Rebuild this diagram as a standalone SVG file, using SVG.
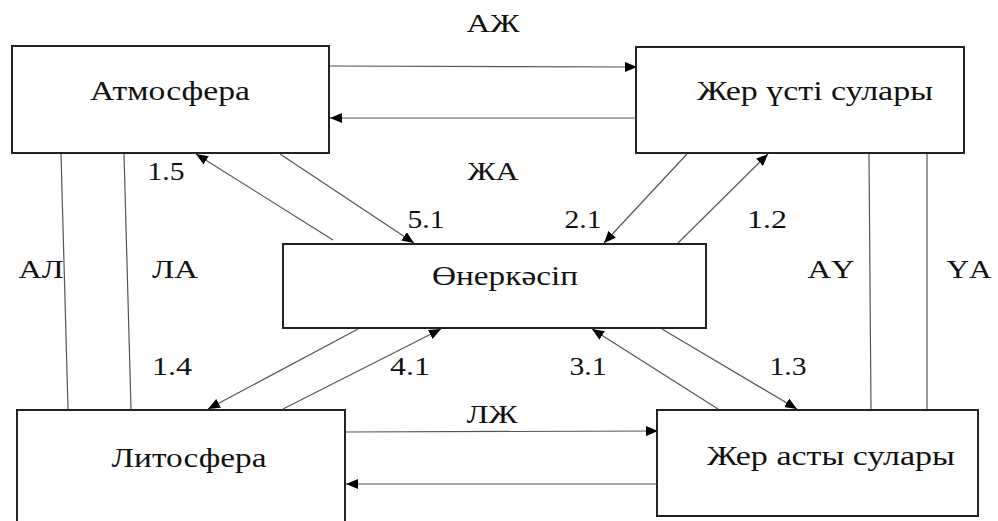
<svg xmlns="http://www.w3.org/2000/svg" width="998" height="521" viewBox="0 0 998 521">
<style>
.box{fill:#fff;stroke:#222;stroke-width:2}
.ln{stroke:#555;stroke-width:1.2;fill:none}
.lbl{font-size:26px}
.nm{font-size:27px}
</style>
<defs>
<marker id="ah" markerUnits="userSpaceOnUse" markerWidth="12" markerHeight="10" refX="12" refY="5" orient="auto">
<path d="M0,0 L12,5 L0,10 Z" fill="#000"/>
</marker>
</defs>
<rect width="998" height="521" fill="#fff"/>
<g font-family="Times New Roman, Liberation Serif, Tinos, serif" fill="#111" text-anchor="middle">
<g id="atmosfera">
<rect class="box" x="12" y="46" width="317" height="107"/>
<text class="nm" x="170" y="100" textLength="160" lengthAdjust="spacingAndGlyphs">Атмосфера</text>
</g>
<g id="jer-usti">
<rect class="box" x="636" y="47" width="328" height="106"/>
<text class="nm" x="815" y="100" textLength="236" lengthAdjust="spacingAndGlyphs">Жер үсті сулары</text>
</g>
<g id="onerkasip">
<rect class="box" x="283" y="244" width="423" height="84"/>
<text class="nm" x="505" y="285" textLength="146" lengthAdjust="spacingAndGlyphs">Өнеркәсіп</text>
</g>
<g id="litosfera">
<rect class="box" x="17" y="410" width="328" height="125"/>
<text class="nm" x="189" y="467" textLength="155" lengthAdjust="spacingAndGlyphs">Литосфера</text>
</g>
<g id="jer-asty">
<rect class="box" x="657" y="410" width="321" height="106"/>
<text class="nm" x="831" y="465" textLength="248" lengthAdjust="spacingAndGlyphs">Жер асты сулары</text>
</g>
<g id="connectors">
<line class="ln" x1="330" y1="66" x2="637" y2="67" marker-end="url(#ah)"/>
<line class="ln" x1="636" y1="118" x2="330" y2="118" marker-end="url(#ah)"/>
<line class="ln" x1="346" y1="432" x2="658" y2="431" marker-end="url(#ah)"/>
<line class="ln" x1="657" y1="484" x2="346" y2="484" marker-end="url(#ah)"/>
<line class="ln" x1="61" y1="154" x2="68" y2="409"/>
<line class="ln" x1="124" y1="154" x2="131" y2="409"/>
<line class="ln" x1="869" y1="154" x2="871" y2="409"/>
<line class="ln" x1="927" y1="154" x2="927" y2="409"/>
<line class="ln" x1="333" y1="240" x2="196" y2="154" marker-end="url(#ah)"/>
<line class="ln" x1="280" y1="154" x2="414" y2="243" marker-end="url(#ah)"/>
<line class="ln" x1="687" y1="154" x2="604" y2="243" marker-end="url(#ah)"/>
<line class="ln" x1="678" y1="243" x2="768" y2="154" marker-end="url(#ah)"/>
<line class="ln" x1="358" y1="329" x2="208" y2="409" marker-end="url(#ah)"/>
<line class="ln" x1="283" y1="409" x2="441" y2="329" marker-end="url(#ah)"/>
<line class="ln" x1="718" y1="409" x2="592" y2="329" marker-end="url(#ah)"/>
<line class="ln" x1="662" y1="329" x2="797" y2="409" marker-end="url(#ah)"/>
</g>
<g id="labels">
<text class="lbl" x="493" y="32" textLength="53" lengthAdjust="spacingAndGlyphs">АЖ</text>
<text class="lbl" x="493" y="180" textLength="51" lengthAdjust="spacingAndGlyphs">ЖА</text>
<text class="lbl" x="41" y="278" textLength="45" lengthAdjust="spacingAndGlyphs">АЛ</text>
<text class="lbl" x="175" y="278" textLength="46" lengthAdjust="spacingAndGlyphs">ЛА</text>
<text class="lbl" x="831" y="278" textLength="47" lengthAdjust="spacingAndGlyphs">АҮ</text>
<text class="lbl" x="969" y="278" textLength="45" lengthAdjust="spacingAndGlyphs">ҮА</text>
<text class="lbl" x="166" y="180" textLength="37" lengthAdjust="spacingAndGlyphs">1.5</text>
<text class="lbl" x="426" y="228" textLength="37" lengthAdjust="spacingAndGlyphs">5.1</text>
<text class="lbl" x="583" y="228" textLength="37" lengthAdjust="spacingAndGlyphs">2.1</text>
<text class="lbl" x="767" y="228" textLength="40" lengthAdjust="spacingAndGlyphs">1.2</text>
<text class="lbl" x="172" y="375" textLength="40" lengthAdjust="spacingAndGlyphs">1.4</text>
<text class="lbl" x="410" y="375" textLength="40" lengthAdjust="spacingAndGlyphs">4.1</text>
<text class="lbl" x="588" y="375" textLength="37" lengthAdjust="spacingAndGlyphs">3.1</text>
<text class="lbl" x="788" y="375" textLength="37" lengthAdjust="spacingAndGlyphs">1.3</text>
<text class="lbl" x="492" y="423" textLength="51" lengthAdjust="spacingAndGlyphs">ЛЖ</text>
</g>
</g>
</svg>
